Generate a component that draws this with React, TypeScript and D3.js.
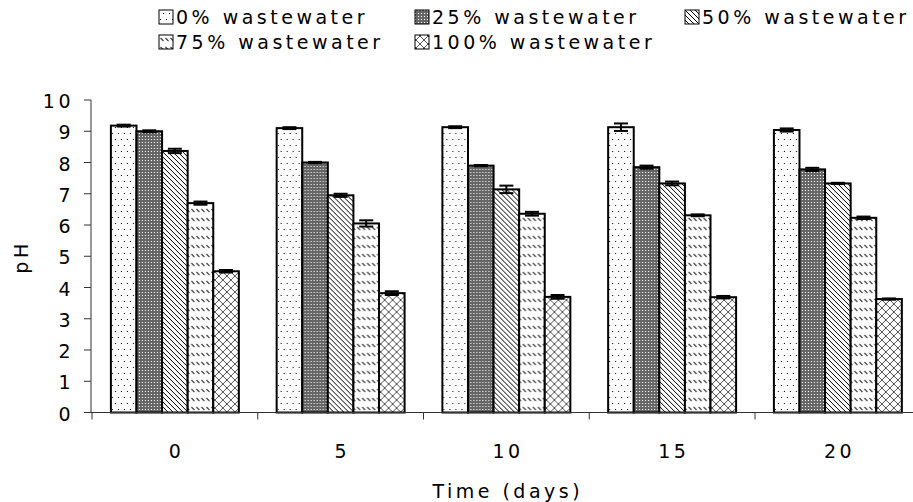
import React from "react"
import * as d3 from "d3"

const days = ["0", "5", "10", "15", "20"]
const seriesNames = ["0% wastewater", "25% wastewater", "50% wastewater", "75% wastewater", "100% wastewater"]
const ph0 = [9.18, 9.1, 9.13, 9.13, 9.04]
const ph25 = [9.0, 8.0, 7.9, 7.85, 7.78]
const ph50 = [8.37, 6.95, 7.14, 7.33, 7.33]
const ph75 = [6.7, 6.05, 6.36, 6.31, 6.23]
const ph100 = [4.52, 3.82, 3.7, 3.69, 3.63]
const err0 = [0.03, 0.03, 0.03, 0.12, 0.05]
const err25 = [0.03, 0.02, 0.02, 0.05, 0.05]
const err50 = [0.07, 0.05, 0.12, 0.06, 0.02]
const err75 = [0.05, 0.1, 0.06, 0.03, 0.04]
const err100 = [0.04, 0.06, 0.06, 0.04, 0.02]
const yTicks = [0, 1, 2, 3, 4, 5, 6, 7, 8, 9, 10]

const values = [ph0, ph25, ph50, ph75, ph100]
const errors = [err0, err25, err50, err75, err100]
const patternIds = ["pDots", "pGray", "pDiag", "pDash", "pCross"]

const font = "'DejaVu Sans', Verdana, sans-serif"
const fs = 19
const ls = 3.5

const App = () => {
  const x0 = d3.scaleBand().domain(days).range([92, 92 + 165.75 * 5]).paddingInner(0.228).paddingOuter(0.114)
  const x1 = d3.scaleBand().domain(seriesNames).range([0, x0.bandwidth()])
  const y = d3.scaleLinear().domain([0, 10]).range([412.5, 100])
  const step = x0.step()
  const bounds = d3.range(days.length + 1).map(i => 92 + i * step)

  // text start x and baseline of each legend entry
  const legendPos = [
    { x: 176, y: 24 },
    { x: 432, y: 24 },
    { x: 702, y: 24 },
    { x: 176, y: 49 },
    { x: 432, y: 49 }
  ]

  return (
    <svg width={913} height={502} style={{ position: "absolute", left: 0, top: 0, background: "#fff" }}>
      <defs>
        <pattern id="pDots" patternUnits="userSpaceOnUse" width={6} height={12}>
          <rect width={6} height={12} fill="#fff" />
          <rect x={1} y={1} width={1} height={1} fill="#000" />
          <rect x={4} y={7} width={1} height={1} fill="#000" />
        </pattern>
        <pattern id="pGray" patternUnits="userSpaceOnUse" width={3} height={3}>
          <rect width={3} height={3} fill="#666" />
          <rect x={1} y={1} width={1} height={1} fill="#fff" />
        </pattern>
        <pattern id="pDiag" patternUnits="userSpaceOnUse" width={5} height={5}>
          <rect width={5} height={5} fill="#fff" />
          <path d="M0,0 L5,5 M-1,4 L1,6 M4,-1 L6,1" stroke="#000" strokeWidth={1} />
        </pattern>
        <pattern id="pDash" patternUnits="userSpaceOnUse" width={5} height={9}>
          <rect width={5} height={9} fill="#fff" />
          <path d="M0.5,2 L3.5,5" stroke="#444" strokeWidth={1.2} />
        </pattern>
        <pattern id="pCross" patternUnits="userSpaceOnUse" width={8} height={8}>
          <rect width={8} height={8} fill="#fff" />
          <path d="M0,0 L8,8 M8,0 L0,8" stroke="#555" strokeWidth={1} />
        </pattern>
      </defs>

      {/* legend */}
      {seriesNames.map((s, i) => (
        <g key={s}>
          <rect x={legendPos[i].x - 17} y={legendPos[i].y - 14} width={14} height={14} fill={`url(#${patternIds[i]})`} stroke="#000" strokeWidth={1} />
          <text x={legendPos[i].x} y={legendPos[i].y} fontFamily={font} fontSize={fs} letterSpacing={ls} fill="#000">{s}</text>
        </g>
      ))}

      {/* bars */}
      {days.map((d, j) => (
        <g key={d} transform={`translate(${x0(d)},0)`}>
          {seriesNames.map((s, i) => (
            <rect key={s} x={x1(s)} y={y(values[i][j])} width={x1.bandwidth()} height={y(0) - y(values[i][j])}
              fill={`url(#${patternIds[i]})`} stroke="#000" strokeWidth={2} />
          ))}
          {seriesNames.map((s, i) => {
            const cx = (x1(s) as number) + x1.bandwidth() / 2
            const v = values[i][j], e = errors[i][j]
            return (
              <g key={s} stroke="#000" strokeWidth={2}>
                <line x1={cx} x2={cx} y1={y(v + e)} y2={y(v - e)} />
                <line x1={cx - 7} x2={cx + 7} y1={y(v + e)} y2={y(v + e)} />
                <line x1={cx - 7} x2={cx + 7} y1={y(v - e)} y2={y(v - e)} />
              </g>
            )
          })}
        </g>
      ))}

      {/* axes */}
      <g stroke="#333" strokeWidth={1}>
        <line x1={91} x2={913} y1={y(0)} y2={y(0)} />
        <line x1={91} x2={91} y1={y(10)} y2={y(0)} />
        {yTicks.map(t => <line key={t} x1={84} x2={91} y1={y(t)} y2={y(t)} />)}
        {bounds.map((b, i) => <line key={i} x1={b} x2={b} y1={y(0)} y2={y(0) + 7} />)}
      </g>
      {yTicks.map(t => (
        <text key={t} x={74} y={y(t) + 8} textAnchor="end" fontFamily={font} fontSize={fs} letterSpacing={ls}>{t}</text>
      ))}
      {days.map(d => (
        <text key={d} x={(x0(d) as number) + x0.bandwidth() / 2 + ls / 2} y={458} textAnchor="middle" fontFamily={font} fontSize={fs} letterSpacing={ls}>{d}</text>
      ))}
      <text x={506 + ls / 2} y={498} textAnchor="middle" fontFamily={font} fontSize={fs} letterSpacing={ls}>Time (days)</text>
      <text transform="translate(28,257) rotate(-90)" textAnchor="middle" fontFamily={font} fontSize={fs} letterSpacing={ls}>pH</text>
    </svg>
  )
}

export default App
